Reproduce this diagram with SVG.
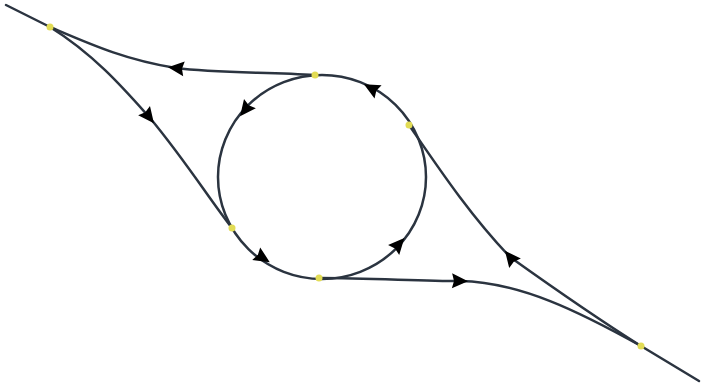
<svg xmlns="http://www.w3.org/2000/svg" width="701" height="385" viewBox="0 0 701 385">
<defs>
<style>
.track{fill:none;stroke:#2b3440;stroke-width:2.5;stroke-linecap:round}
.dot{fill:#e2dc55}
</style>
<path id="arrow" d="M8,0 L-8,-7.5 L-6,0 L-8,7.5 Z" fill="#000"/>
</defs>
<rect width="701" height="385" fill="#fff"/>
<g id="connectors">
<path class="track" d="M6,5 L50,27"/>
<path class="track" d="M641,346 L699,381"/>
<path class="track" d="M315,75 C265,72 215,73 176,68 C125,60 90,44 50,27"/>
<path class="track" d="M50,27 C95,55 125,90 150,118 C185,160 210,200 232,228"/>
<path class="track" d="M319,278 C370,278 420,281 460,281 C520,282 580,312 641,346"/>
<path class="track" d="M641,346 C590,314 545,282 510,257 C470,215 440,170 409,125"/>
<ellipse class="track" cx="322" cy="177" rx="104" ry="102"/>
</g>
<g id="arrows">
<use href="#arrow" transform="translate(176,68) rotate(186)"/>
<use href="#arrow" transform="translate(149,117) rotate(52)"/>
<use href="#arrow" transform="translate(245,110) rotate(128)"/>
<use href="#arrow" transform="translate(371,88) rotate(208)"/>
<use href="#arrow" transform="translate(263,258) rotate(32)"/>
<use href="#arrow" transform="translate(399,244) rotate(-48)"/>
<use href="#arrow" transform="translate(460,281) rotate(1)"/>
<use href="#arrow" transform="translate(510,257) rotate(231)"/>
</g>
<g id="node-a"><circle class="dot" cx="50" cy="27" r="3.5"/></g>
<g id="node-b"><circle class="dot" cx="315" cy="75" r="3.5"/></g>
<g id="node-c"><circle class="dot" cx="409" cy="125" r="3.5"/></g>
<g id="node-d"><circle class="dot" cx="232" cy="228" r="3.5"/></g>
<g id="node-e"><circle class="dot" cx="319" cy="278" r="3.5"/></g>
<g id="node-f"><circle class="dot" cx="641" cy="346" r="3.5"/></g>
</svg>
